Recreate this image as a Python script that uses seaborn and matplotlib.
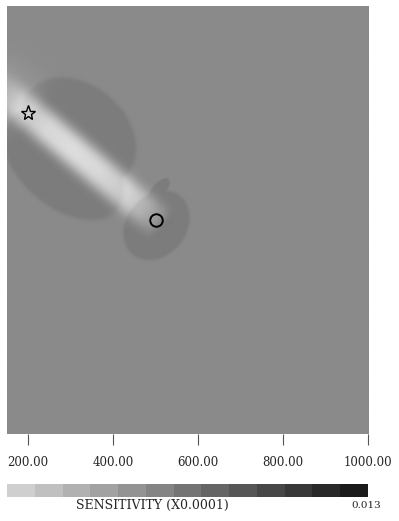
import numpy as np
import pandas as pd
import matplotlib
matplotlib.use("Agg")
import matplotlib.pyplot as plt
from matplotlib.colors import ListedColormap
import seaborn as sns

# ---- model domain and axis labelling ----
x_range = [150.0, 1000.0]
y_range = [0.0, 1000.0]
x_ticks = [200, 400, 600, 800, 1000]
x_tick_labels = ["200.00", "400.00", "600.00", "800.00", "1000.00"]

# ---- source (star) and receiver (circle) ----
source_xy = [200.0, 750.0]
receiver_xy = [500.0, 500.0]

# ---- sensitivity shading (grey fraction: 0 black, 1 white) ----
background_level = 0.54
lobe_drop = 0.055
# brightness along the source-receiver path (0 = source, 1 = receiver)
path_pos = [-0.32, -0.14, 0.0, 0.15, 0.35, 0.55, 0.75, 0.90, 1.0, 1.06]
path_gain = [0.0, 0.14, 0.30, 0.36, 0.38, 0.36, 0.30, 0.21, 0.11, 0.0]
path_width = 38.0
# faint halo behind the source
halo_pos = [-0.45, -0.25, -0.05, 0.05]
halo_gain = [0.0, 0.07, 0.07, 0.0]
halo_width = 50.0
# lower-sensitivity lobes around the path (u along path, v across it)
lobe_u = [120.0, 140.0, 400.0, 352.0]
lobe_v = [40.0, -40.0, -10.0, 55.0]
lobe_au = [150.0, 165.0, 70.0, 16.0]
lobe_av = [110.0, 100.0, 88.0, 36.0]

# ---- colour scale ----
n_levels = 13
scale_title = "SENSITIVITY (X0.0001)"
scale_max_label = "0.013"

# ---- build the sensitivity image ----
nx, ny = 361, 428
xs = np.linspace(x_range[0], x_range[1], nx)
ys = np.linspace(y_range[0], y_range[1], ny)
X, Y = np.meshgrid(xs, ys)

d = np.array(receiver_xy) - np.array(source_xy)
length = np.hypot(*d)
e = d / length
n = np.array([-e[1], e[0]])
U = (X - source_xy[0]) * e[0] + (Y - source_xy[1]) * e[1]
V = (X - source_xy[0]) * n[0] + (Y - source_xy[1]) * n[1]
T = U / length

r = np.full_like(X, np.inf)
for cu, cv, au, av in zip(lobe_u, lobe_v, lobe_au, lobe_av):
    r = np.minimum(r, ((U - cu) / au) ** 2 + ((V - cv) / av) ** 2)
lobes = 1.0 / (1.0 + np.exp((r - 1.0) * 25.0))

path = np.interp(T, path_pos, path_gain) * np.exp(-np.abs(V / path_width) ** 3)
halo = np.interp(T, halo_pos, halo_gain) * np.exp(-0.5 * (V / halo_width) ** 2)

shade = background_level - lobe_drop * lobes + path + halo

# ---- figure ----
sns.set_theme(style="white")
plt.rcParams["font.family"] = ["DejaVu Serif"]

fig = plt.figure(figsize=(3.99, 5.21), dpi=100)
ax = fig.add_axes([0.0175, 0.167, 0.9048, 0.8215])
ax.imshow(shade, origin="lower", cmap="gray", vmin=0.0, vmax=1.0,
          extent=[x_range[0], x_range[1], y_range[0], y_range[1]],
          aspect="auto", interpolation="bilinear")
ax.set_xlim(*x_range)
ax.set_ylim(*y_range)

ax.plot(*source_xy, marker="*", ms=11, mfc="none", mec="black", mew=1.0)
ax.plot(*receiver_xy, marker="o", ms=9, mfc="none", mec="black", mew=1.4)

ax.set_xticks(x_ticks)
ax.set_xticklabels(x_tick_labels, fontsize=8.5)
ax.set_yticks([])
ax.tick_params(axis="x", bottom=True, direction="out", length=8, width=0.8,
               color="#555555", pad=8)
for s in ax.spines.values():
    s.set_visible(False)

# ---- discrete colour scale strip ----
cax = fig.add_axes([0.0175, 0.046, 0.9048, 0.025])
palette = sns.blend_palette(["#cfcfcf", "#1a1a1a"], n_levels)
strip = pd.DataFrame([np.arange(n_levels)])
sns.heatmap(strip, ax=cax, cmap=ListedColormap(palette), cbar=False,
            xticklabels=False, yticklabels=False)
for s in cax.spines.values():
    s.set_visible(False)

fig.text(0.381, 0.029, scale_title, ha="center", va="center", fontsize=9)
fig.text(0.918, 0.029, scale_max_label, ha="center", va="center", fontsize=7.5)

fig.savefig("out.png", dpi=100)
